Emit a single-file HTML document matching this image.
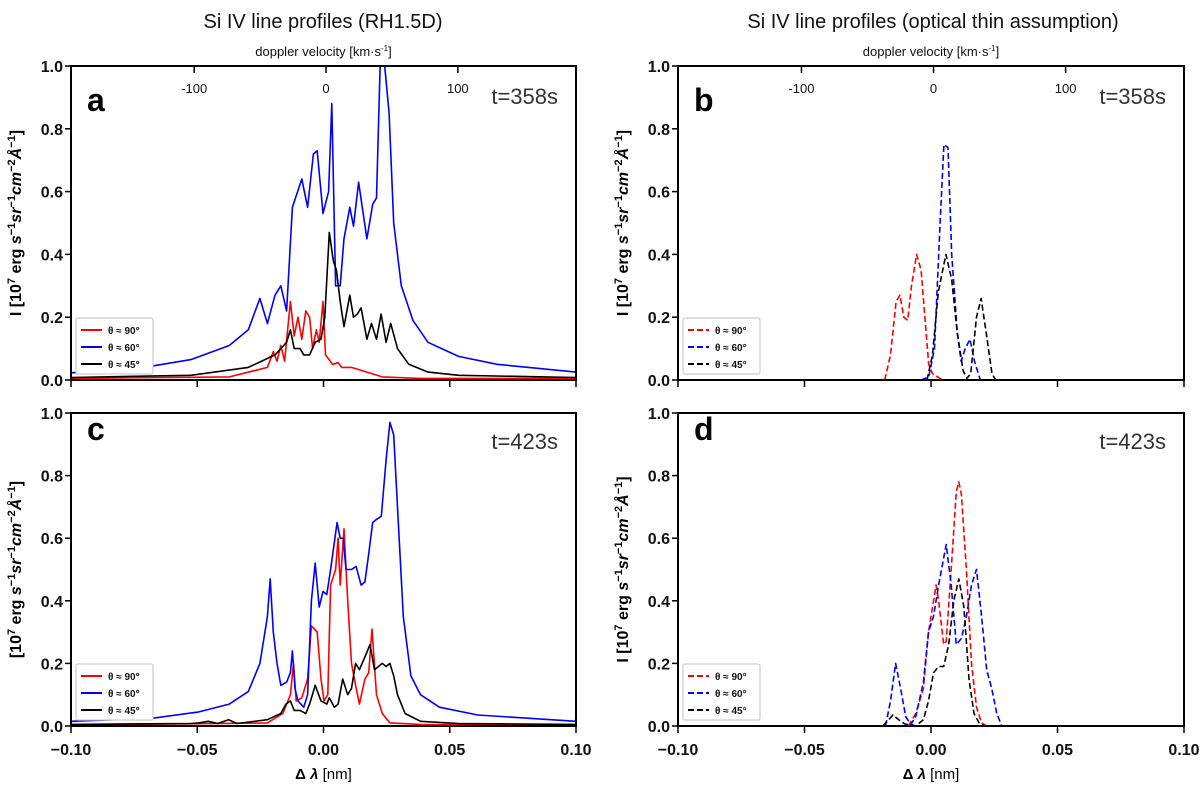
<!DOCTYPE html>
<html><head><meta charset="utf-8"><style>
body{margin:0;background:#fff;}
svg{display:block;font-family:"Liberation Sans","DejaVu Sans",sans-serif;}
.tk{font-size:16px;font-weight:bold;fill:#111;}
.tt{font-size:13px;fill:#111;}
</style></head><body>
<svg id="fig" width="1200" height="786" viewBox="0 0 1200 786"></svg>
<script>
// ---- data (Δλ in nm, intensity in 10^7 units) ----
const aBlueX=[-0.1,-0.0827,-0.0676,-0.0525,-0.0373,-0.0298,-0.0252,-0.0222,-0.0192,-0.0169,-0.0146,-0.0123,-0.0086,-0.0063,-0.0040,-0.0025,-0.0002,0.0020,0.0033,0.0048,0.0066,0.0081,0.0104,0.0119,0.0139,0.0172,0.0195,0.0210,0.0225,0.0240,0.0260,0.0278,0.0308,0.0354,0.0414,0.0535,0.0687,0.1];
const aBlueY=[0.023,0.03,0.045,0.065,0.11,0.16,0.26,0.18,0.27,0.3,0.22,0.55,0.64,0.55,0.72,0.73,0.53,0.6,0.88,0.3,0.3,0.45,0.55,0.49,0.63,0.45,0.56,0.58,1.02,1.02,0.85,0.5,0.3,0.19,0.12,0.075,0.05,0.025];
const aRedX=[-0.1,-0.0373,-0.0222,-0.0199,-0.0184,-0.0169,-0.0154,-0.0131,-0.0116,-0.0101,-0.0086,-0.0070,-0.0055,-0.0043,-0.0028,-0.0017,-0.0002,0.0008,0.0036,0.0058,0.0073,0.0111,0.0172,0.0233,0.0384,0.1];
const aRedY=[0.005,0.01,0.04,0.09,0.06,0.11,0.06,0.25,0.14,0.2,0.13,0.22,0.2,0.1,0.16,0.12,0.25,0.08,0.05,0.055,0.04,0.04,0.025,0.01,0.005,0.005];
const aBlackX=[-0.1,-0.0525,-0.0298,-0.0192,-0.0146,-0.0131,-0.0116,-0.0093,-0.0078,-0.0055,-0.0033,-0.0010,0.0005,0.0023,0.0039,0.0051,0.0066,0.0081,0.0104,0.0119,0.0134,0.0149,0.0172,0.0190,0.0210,0.0228,0.0248,0.0266,0.0293,0.0338,0.0414,0.0535,0.1];
const aBlackY=[0.008,0.015,0.04,0.08,0.12,0.16,0.1,0.1,0.08,0.08,0.12,0.13,0.2,0.47,0.38,0.35,0.25,0.17,0.27,0.2,0.21,0.23,0.13,0.18,0.13,0.21,0.12,0.18,0.1,0.05,0.025,0.015,0.008];

const bRedX=[-0.0183,-0.0160,-0.0138,-0.0123,-0.0107,-0.0092,-0.0077,-0.0057,-0.0039,-0.0024,-0.0009,0.0006,0.0036,0.0051];
const bRedY=[0,0.08,0.25,0.27,0.2,0.19,0.3,0.4,0.35,0.2,0.05,0.02,0.005,0];
const bBlueX=[-0.0039,-0.0009,0.0014,0.0036,0.0051,0.0067,0.0082,0.0104,0.0119,0.0135,0.0154,0.0172,0.0195,0.0210];
const bBlueY=[0,0.01,0.1,0.5,0.75,0.74,0.4,0.15,0.06,0.1,0.13,0.06,0,0];
const bBlackX=[-0.0016,0.0006,0.0029,0.0059,0.0082,0.0104,0.0127,0.0142,0.0157,0.0180,0.0198,0.0218,0.0241,0.0256];
const bBlackY=[0,0.08,0.28,0.4,0.32,0.15,0.03,0.005,0.02,0.2,0.26,0.15,0.02,0];

const cBlueX=[-0.1,-0.0676,-0.0494,-0.0373,-0.0298,-0.0252,-0.0222,-0.0211,-0.0199,-0.0184,-0.0169,-0.0146,-0.0131,-0.0123,-0.0113,-0.0101,-0.0078,-0.0063,-0.0048,-0.0033,-0.0017,-0.0002,0.0013,0.0028,0.0054,0.0066,0.0078,0.0089,0.0111,0.0129,0.0149,0.0164,0.0179,0.0195,0.0210,0.0229,0.0248,0.0263,0.0278,0.0293,0.0316,0.0346,0.0384,0.0459,0.0611,0.1];
const cBlueY=[0.015,0.025,0.045,0.07,0.11,0.2,0.35,0.47,0.3,0.2,0.13,0.14,0.17,0.24,0.12,0.08,0.06,0.1,0.4,0.52,0.38,0.43,0.42,0.5,0.65,0.6,0.6,0.5,0.5,0.51,0.45,0.46,0.55,0.65,0.66,0.67,0.85,0.97,0.93,0.7,0.35,0.16,0.1,0.06,0.035,0.015];
const cRedX=[-0.1,-0.0222,-0.0161,-0.0131,-0.0119,-0.0108,-0.0086,-0.0063,-0.0048,-0.0025,-0.0010,0.0002,0.0017,0.0028,0.0048,0.0058,0.0066,0.0081,0.0096,0.0111,0.0127,0.0142,0.0164,0.0179,0.0192,0.0210,0.0233,0.0263,0.0384,0.1];
const cRedY=[0.003,0.01,0.04,0.1,0.2,0.08,0.09,0.15,0.32,0.3,0.15,0.08,0.1,0.45,0.5,0.6,0.45,0.63,0.4,0.2,0.13,0.07,0.15,0.17,0.31,0.1,0.04,0.01,0.005,0.003];
const cBlackX=[-0.1,-0.0525,-0.0494,-0.0457,-0.0419,-0.0376,-0.0343,-0.0222,-0.0169,-0.0149,-0.0131,-0.0116,-0.0093,-0.0070,-0.0055,-0.0033,-0.0010,0.0013,0.0023,0.0043,0.0058,0.0076,0.0096,0.0111,0.0127,0.0142,0.0164,0.0184,0.0202,0.0233,0.0248,0.0263,0.0278,0.0293,0.0323,0.0384,0.0535,0.1];
const cBlackY=[0.005,0.008,0.01,0.015,0.008,0.02,0.008,0.02,0.04,0.07,0.08,0.05,0.05,0.04,0.07,0.13,0.08,0.07,0.09,0.06,0.07,0.15,0.1,0.12,0.2,0.18,0.22,0.26,0.18,0.2,0.19,0.2,0.16,0.1,0.04,0.015,0.008,0.005];

const dRedX=[-0.009,-0.006,-0.003,-0.001,0.002,0.003,0.005,0.006,0.008,0.010,0.011,0.012,0.014,0.016,0.018,0.020,0.022];
const dRedY=[0,0.04,0.12,0.3,0.45,0.4,0.26,0.27,0.5,0.75,0.78,0.74,0.5,0.2,0.06,0.01,0];
const dBlueX=[-0.018,-0.016,-0.014,-0.012,-0.010,-0.008,-0.006,-0.003,-0.001,0.001,0.003,0.006,0.008,0.010,0.012,0.014,0.016,0.018,0.020,0.022,0.024,0.026,0.028];
const dBlueY=[0,0.08,0.2,0.12,0.03,0.005,0.03,0.14,0.3,0.35,0.45,0.58,0.45,0.26,0.28,0.35,0.45,0.5,0.35,0.18,0.12,0.04,0];
const dBlackX=[-0.019,-0.015,-0.012,-0.010,-0.008,-0.006,-0.003,-0.001,0.001,0.003,0.005,0.007,0.009,0.011,0.013,0.015,0.017,0.019,0.021];
const dBlackY=[0,0.035,0.015,0.005,0.005,0,0.02,0.08,0.17,0.19,0.19,0.26,0.4,0.47,0.38,0.15,0.04,0.01,0];

const yTicks=[0,0.2,0.4,0.6,0.8,1.0];
const yTickLabels=["0.0","0.2","0.4","0.6","0.8","1.0"];
const xTicks=[-0.1,-0.05,0,0.05,0.1];
const xTickLabels=["\u22120.10","\u22120.05","0.00","0.05","0.10"];
const vTicks=[-100,0,100];
const vTickLabels=["-100","0","100"];
const legendLabels=["\u03b8 \u2248 90\u00b0","\u03b8 \u2248 60\u00b0","\u03b8 \u2248 45\u00b0"];

const NS="http://www.w3.org/2000/svg";
const svg=document.getElementById('fig');
function mk(tag,attrs,parent){const e=document.createElementNS(NS,tag);for(const k in attrs)e.setAttribute(k,attrs[k]);(parent||svg).appendChild(e);return e;}
function vToL(v){return 0.001+v*0.000522;}

const panels=[
 {id:'a',x0:71,x1:576,y0:66,y1:380,t:'t=358s',dash:false,top:true,series:[[aRedX,aRedY,'#ff0000'],[aBlueX,aBlueY,'#0000ff'],[aBlackX,aBlackY,'#000']],ylab:'I [10'},
 {id:'b',x0:678,x1:1184,y0:66,y1:380,t:'t=358s',dash:true,top:true,series:[[bRedX,bRedY,'#ff0000'],[bBlueX,bBlueY,'#0000ff'],[bBlackX,bBlackY,'#000']],ylab:'I [10'},
 {id:'c',x0:71,x1:576,y0:413,y1:726,t:'t=423s',dash:false,top:false,series:[[cRedX,cRedY,'#ff0000'],[cBlueX,cBlueY,'#0000ff'],[cBlackX,cBlackY,'#000']],ylab:'[10'},
 {id:'d',x0:678,x1:1184,y0:413,y1:726,t:'t=423s',dash:true,top:false,series:[[dRedX,dRedY,'#ff0000'],[dBlueX,dBlueY,'#0000ff'],[dBlackX,dBlackY,'#000']],ylab:'I [10'}
];

panels.forEach(p=>{
  const g=mk('g',{});
  
  
  const sx=v=>p.x0+(v+0.1)/0.2*(p.x1-p.x0);
  const sy=v=>p.y1-v*(p.y1-p.y0);
  const cp=mk('clipPath',{id:'clip'+p.id},g);
  mk('rect',{x:p.x0,y:p.y0,width:p.x1-p.x0,height:p.y1-p.y0},cp);
  const names=['series-90deg','series-60deg','series-45deg'];
  p.series.forEach((s,i)=>{
    const d=s[0].map((x,j)=>(j?'L':'M')+sx(x).toFixed(1)+','+sy(s[1][j]).toFixed(1)).join('');
    const path=mk('path',{d:d,fill:'none',stroke:s[2],'stroke-width':1.6,'stroke-linejoin':'round','clip-path':'url(#clip'+p.id+')','stroke-dasharray':p.dash?'6,3':'none'},g);
    
    
  });
  const frame=mk('rect',{x:p.x0,y:p.y0,width:p.x1-p.x0,height:p.y1-p.y0,fill:'none',stroke:'#000','stroke-width':2},g);
  
  
  yTicks.forEach((v,i)=>{
    mk('line',{x1:p.x0-6,x2:p.x0,y1:sy(v),y2:sy(v),stroke:'#000','stroke-width':1.5},g);
    const t=mk('text',{x:p.x0-8,y:sy(v)+6,'text-anchor':'end',class:'tk'},g);
    t.textContent=yTickLabels[i];
    
    
  });
  xTicks.forEach((v,i)=>{
    mk('line',{x1:sx(v),x2:sx(v),y1:p.y1,y2:p.y1+7,stroke:'#000','stroke-width':1.5},g);
    if(!p.top){
      const t=mk('text',{x:sx(v),y:p.y1+29,'text-anchor':'middle',class:'tk'},g);
      t.textContent=xTickLabels[i];
      
      
    }
  });
  if(p.top){
    vTicks.forEach((v,i)=>{
      const x=sx(vToL(v));
      mk('line',{x1:x,x2:x,y1:p.y0,y2:p.y0+7,stroke:'#000','stroke-width':1.5},g);
      const t=mk('text',{x:x,y:p.y0+27,'text-anchor':'middle',class:'tt'},g);
      t.textContent=vTickLabels[i];
      
      
    });
    const vt=mk('text',{x:(p.x0+p.x1)/2,y:p.y0-10,'text-anchor':'middle',class:'tt'},g);
    vt.innerHTML='doppler velocity [km\u00b7s<tspan dy="-5" font-size="8">-1</tspan><tspan dy="5">]</tspan>';
    
    
  } else {
    const xl=mk('text',{x:(p.x0+p.x1)/2,y:p.y1+53,'text-anchor':'middle','font-size':'15'},g);
    xl.innerHTML='<tspan font-weight="bold">\u0394 <tspan font-style="italic">\u03bb</tspan></tspan> [nm]';
    
    
  }
  const lt=mk('text',{x:p.x0+16,y:p.top?p.y0+45:p.y0+27,'font-size':'32','font-weight':'bold'},g);
  lt.textContent=p.id;
  
  
  const tt=mk('text',{x:p.x1-18,y:p.top?p.y0+38:p.y0+36,'text-anchor':'end','font-size':'22',fill:'#333'},g);
  tt.textContent=p.t;
  
  
  const cy=(p.y0+p.y1)/2, lx=p.x0-50;
  const yl=mk('text',{x:lx,y:cy,'text-anchor':'middle','font-size':'16','font-weight':'bold',transform:'rotate(-90 '+lx+' '+cy+')'},g);
  yl.innerHTML=p.ylab+'<tspan dy="-6" font-size="11">7</tspan><tspan dy="6"> erg </tspan><tspan font-style="italic">s</tspan><tspan dy="-6" font-size="11">\u22121</tspan><tspan dy="6" font-style="italic">sr</tspan><tspan dy="-6" font-size="11">\u22121</tspan><tspan dy="6" font-style="italic">cm</tspan><tspan dy="-6" font-size="11">\u22122</tspan><tspan dy="6" font-style="italic">\u00c5</tspan><tspan dy="-6" font-size="11">\u22121</tspan><tspan dy="6">]</tspan>';
  
  
  // legend
  const lg=mk('g',{},g);
  
  
  const bx=p.x0+5, by=p.y1-62;
  mk('rect',{x:bx,y:by,width:77,height:56,fill:'#fff',stroke:'#ccc','stroke-width':1.2,rx:2},lg);
  ['#ff0000','#0000ff','#000'].forEach((c,i)=>{
    const yy=by+12+i*17;
    mk('line',{x1:bx+5,x2:bx+26,y1:yy,y2:yy,stroke:c,'stroke-width':2,'stroke-dasharray':p.dash?'6,3':'none'},lg);
    const t=mk('text',{x:bx+32,y:yy+4,'font-size':'10','font-weight':'bold',fill:'#111'},lg);
    t.textContent=legendLabels[i];
    
    
  });
});
const t1=mk('text',{x:323,y:28,'text-anchor':'middle','font-size':'20',fill:'#111'});
t1.textContent='Si IV line profiles (RH1.5D)';


const t2=mk('text',{x:933,y:28,'text-anchor':'middle','font-size':'20',fill:'#111'});
t2.textContent='Si IV line profiles (optical thin assumption)';


</script>
</body></html>
